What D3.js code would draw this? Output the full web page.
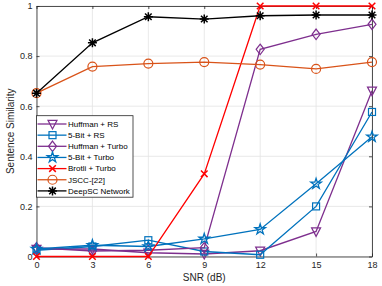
<!DOCTYPE html>
<html>
<head>
<meta charset="utf-8">
<script src="https://cdn.jsdelivr.net/npm/d3@7"></script>
<style>
  body { margin: 0; background: #fff; }
  svg { font-family: "Liberation Sans", Arial, sans-serif; }
</style>
</head>
<body>
<svg id="chart" width="382" height="286"></svg>
<script>
// SNR values on the x axis
const snr = [0, 3, 6, 9, 12, 15, 18];

// Sentence similarity per scheme
const huffmanRS    = [0.030, 0.030, 0.015, 0.010, 0.023, 0.100, 0.662];
const fiveBitRS    = [0.025, 0.040, 0.065, 0.020, 0.007, 0.200, 0.577];
const huffmanTurbo = [0.035, 0.022, 0.025, 0.035, 0.827, 0.887, 0.927];
const fiveBitTurbo = [0.030, 0.045, 0.040, 0.070, 0.108, 0.290, 0.478];
const brotliTurbo  = [0.000, 0.000, 0.000, 0.330, 1.000, 1.000, 1.000];
const jscc         = [0.652, 0.758, 0.770, 0.776, 0.766, 0.749, 0.776];
const deepSC       = [0.652, 0.853, 0.957, 0.948, 0.961, 0.964, 0.964];

const seriesNames = ["Huffman + RS", "5-Bit + RS", "Huffman + Turbo", "5-Bit + Turbo",
                     "Brotli + Turbo", "JSCC-[22]", "DeepSC Network"];
const xTicks = [0, 3, 6, 9, 12, 15, 18];
const yTicks = [0, 0.2, 0.4, 0.6, 0.8, 1];

const purple = "#7E2F8E", blue = "#0072BD", red = "#FF0000", orange = "#D95319";

const series = [
  { name: seriesNames[0], values: huffmanRS,    color: purple, marker: "triDown" },
  { name: seriesNames[1], values: fiveBitRS,    color: blue,   marker: "square" },
  { name: seriesNames[2], values: huffmanTurbo, color: purple, marker: "diamond" },
  { name: seriesNames[3], values: fiveBitTurbo, color: blue,   marker: "star" },
  { name: seriesNames[4], values: brotliTurbo,  color: red,    marker: "cross" },
  { name: seriesNames[5], values: jscc,         color: orange, marker: "circle" },
  { name: seriesNames[6], values: deepSC,       color: "#000", marker: "asterisk" }
];

const svg = d3.select("#chart");
const plotL = 36.5, plotR = 372, plotT = 6, plotB = 256.5;

const x = d3.scaleLinear().domain([0, 18]).range([plotL, plotR]);
const y = d3.scaleLinear().domain([0, 1]).range([plotB, plotT]);

// grid
svg.append("g").selectAll("line").data(xTicks).join("line")
  .attr("x1", d => x(d)).attr("x2", d => x(d))
  .attr("y1", plotT).attr("y2", plotB)
  .attr("stroke", "#e3e3e3").attr("stroke-width", 0.8);
svg.append("g").selectAll("line").data(yTicks).join("line")
  .attr("x1", plotL).attr("x2", plotR)
  .attr("y1", d => y(d)).attr("y2", d => y(d))
  .attr("stroke", "#e3e3e3").attr("stroke-width", 0.8);

// axes
svg.append("g").attr("transform", `translate(0,${plotB})`)
  .call(d3.axisBottom(x).tickValues(xTicks).tickSize(-3).tickPadding(5).tickSizeOuter(0));
svg.append("g").attr("transform", `translate(${plotL},0)`)
  .call(d3.axisLeft(y).tickValues(yTicks).tickSize(-3).tickPadding(4).tickSizeOuter(0)
    .tickFormat(d => d === 0 ? "0" : d === 1 ? "1" : d3.format(".1f")(d)));
svg.append("g").attr("transform", `translate(0,${plotT})`)
  .call(d3.axisTop(x).tickValues(xTicks).tickSize(-3).tickFormat("").tickSizeOuter(0));
svg.append("g").attr("transform", `translate(${plotR},0)`)
  .call(d3.axisRight(y).tickValues(yTicks).tickSize(-3).tickFormat("").tickSizeOuter(0));
svg.selectAll(".domain, .tick line").attr("stroke", "#262626").attr("stroke-width", 0.8);
svg.selectAll(".tick text").attr("fill", "#262626").attr("font-size", 9);

svg.append("text").attr("x", (plotL + plotR) / 2).attr("y", 281)
  .attr("text-anchor", "middle").attr("font-size", 10).attr("fill", "#262626")
  .text("SNR (dB)");
svg.append("text").attr("transform", `translate(14,${(plotT + plotB) / 2}) rotate(-90)`)
  .attr("text-anchor", "middle").attr("font-size", 10).attr("fill", "#262626")
  .text("Sentence Similarity");

// marker drawing
function drawMarker(g, type, color) {
  const s = 4.5;
  if (type === "triDown") {
    g.append("path").attr("d", `M${-s},${-s * 0.8}L${s},${-s * 0.8}L0,${s * 1.1}Z`)
      .attr("fill", "none").attr("stroke", color).attr("stroke-width", 1.2);
  } else if (type === "square") {
    g.append("rect").attr("x", -3.5).attr("y", -3.5).attr("width", 7).attr("height", 7)
      .attr("fill", "none").attr("stroke", color).attr("stroke-width", 1.2);
  } else if (type === "diamond") {
    g.append("path").attr("d", "M0,-5.2L4,0L0,5.2L-4,0Z")
      .attr("fill", "none").attr("stroke", color).attr("stroke-width", 1.2);
  } else if (type === "star") {
    g.append("path").attr("d", d3.symbol(d3.symbolStar, 34)())
      .attr("fill", "none").attr("stroke", color).attr("stroke-width", 1.3);
  } else if (type === "cross") {
    g.append("path").attr("d", "M-3.3,-3.3L3.3,3.3M-3.3,3.3L3.3,-3.3")
      .attr("stroke", color).attr("stroke-width", 1.5);
  } else if (type === "circle") {
    g.append("circle").attr("r", 4.5)
      .attr("fill", "none").attr("stroke", color).attr("stroke-width", 1.2);
  } else if (type === "asterisk") {
    g.append("path").attr("d", "M0,-4.5L0,4.5M-4.5,0L4.5,0M-3.3,-3.3L3.3,3.3M-3.3,3.3L3.3,-3.3")
      .attr("stroke", color).attr("stroke-width", 1.5);
  }
}

const line = d3.line().x((d, i) => x(snr[i])).y(d => y(d));

series.forEach(s => {
  const g = svg.append("g");
  g.append("path").datum(s.values).attr("d", line)
    .attr("fill", "none").attr("stroke", s.color).attr("stroke-width", 1.3);
  s.values.forEach((v, i) => {
    const m = g.append("g").attr("transform", `translate(${x(snr[i])},${y(v)})`);
    drawMarker(m, s.marker, s.color);
  });
});

// legend
const legend = svg.append("g");
legend.append("rect").attr("x", plotL).attr("y", 115.7).attr("width", 96.5).attr("height", 81.5)
  .attr("fill", "#fff").attr("stroke", "#262626").attr("stroke-width", 0.8);
series.forEach((s, i) => {
  const ly = 124 + i * 11.15;
  legend.append("line").attr("x1", 37.5).attr("x2", 66.5).attr("y1", ly).attr("y2", ly)
    .attr("stroke", s.color).attr("stroke-width", 1.3);
  drawMarker(legend.append("g").attr("transform", `translate(52.5,${ly})`), s.marker, s.color);
  legend.append("text").attr("x", 68).attr("y", ly).attr("dy", "0.35em")
    .attr("font-size", 8).attr("fill", "#000").text(s.name);
});
</script>
</body>
</html>
